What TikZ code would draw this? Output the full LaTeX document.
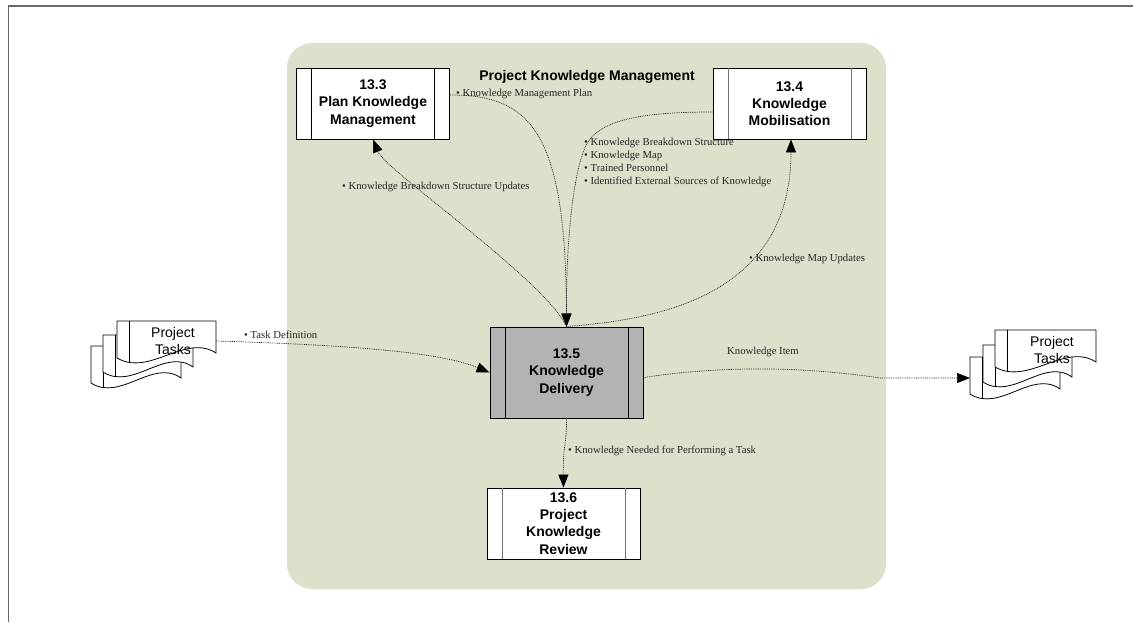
\documentclass[tikz,border=0pt]{standalone}
\usepackage{fontspec}
\setmainfont{Liberation Serif}
\newfontfamily\sansf{Liberation Sans}
\usetikzlibrary{arrows.meta}
\definecolor{bgreen}{RGB}{221,224,203}
\definecolor{boxgray}{RGB}{179,179,179}
\definecolor{framegray}{RGB}{105,105,105}
\tikzset{
 proc/.style={draw=black, line width=0.9pt, fill=white, minimum width=153pt, minimum height=71pt, inner sep=0pt, align=center, font=\sansf\bfseries\fontsize{14}{17.3}\selectfont},
 flow/.style={draw=black!85, line width=0.7pt, dash pattern=on 0.9pt off 0.9pt, -{Triangle[length=13pt,width=10pt,black]}},
 lbl/.style={font=\fontsize{10.7}{13}\selectfont, inner sep=0pt, anchor=west, align=left, text=black!85},
 doctxt/.style={font=\sansf\fontsize{14}{17}\selectfont, align=center, inner sep=0pt},
}
\newcommand\pkdoc[3]{%
 \filldraw[fill=white, draw=black, line width=0.8pt] (#1,#3) -- (#2,#3) -- (#2,{#3+32}) .. controls ({#2-0.31*(#2-#1)},{#3+12}) and ({#1+0.33*(#2-#1)},{#3+56}) .. (#1,{#3+37}) -- cycle;
 \begin{scope}
 \clip (#1,#3) -- (#2,#3) -- (#2,{#3+32}) .. controls ({#2-0.31*(#2-#1)},{#3+12}) and ({#1+0.33*(#2-#1)},{#3+56}) .. (#1,{#3+37}) -- cycle;
 \draw[line width=0.8pt] ({#1+12},#3) -- ({#1+12},{#3+60});
 \end{scope}}
\begin{document}
\begin{tikzpicture}[x=1pt,y=-1pt]
\fill[white] (0,0) rectangle (1133,622);
\useasboundingbox (0,0) rectangle (1133,622);
% frame
\draw[framegray, line width=1.5pt] (8.5,622) -- (8.5,6) -- (1133,6);
% group background
\fill[bgreen, rounded corners=25pt] (287,43) rectangle (886,589);
\node[font=\sansf\bfseries\fontsize{14}{17}\selectfont, inner sep=0pt] (title) at (587,77) {Project Knowledge Management};
% process boxes
\node[proc] (b33) at (373,103.5) {13.3\\Plan Knowledge\\Management};
\node[proc] (b34) at (789.5,103.5) {13.4\\Knowledge\\Mobilisation};
\node[proc, fill=boxgray, minimum height=91pt] (b35) at (566.5,372.5) {13.5\\Knowledge\\Delivery};
\node[proc] (b36) at (563.5,523.5) {13.6\\Project\\Knowledge\\Review};
\foreach \b/\c in {b33/black, b34/black!55, b35/black, b36/black!55}{
 \draw[draw=\c, line width=0.9pt] ([xshift=15.5pt]\b.north west) -- ([xshift=15.5pt]\b.south west);
 \draw[draw=\c, line width=0.9pt] ([xshift=-15.5pt]\b.north east) -- ([xshift=-15.5pt]\b.south east);
}
% document stacks
\pkdoc{91}{181}{346}
\pkdoc{103}{193}{335}
\pkdoc{117}{216}{321}
\node[doctxt] (ptl) at (173,340.5) {Project\\Tasks};
\pkdoc{970}{1060}{357}
\pkdoc{983}{1072}{345}
\pkdoc{995}{1096}{330}
\node[doctxt] (ptr) at (1052,350) {Project\\Tasks};
\coordinate (ptlR) at (216,341);
\coordinate (ptrL) at (970,378);
% connectors
\draw[flow] ([yshift=8.5pt]b33.east) .. controls (530,95) and (566,130) .. (b35.north);
\draw[flow] ([yshift=-8.5pt]b34.west) .. controls (640,112) and (594,120) .. (584,150) .. controls (572,180) and (566,250) .. (b35.north);
\draw[flow] (b35.north) .. controls (545,280) and (385,170) .. (b33.south);
\draw[flow] (b35.north) .. controls (650,320) and (791,300) .. ([xshift=1.5pt]b34.south);
\draw[flow] (ptlR) .. controls (350,345) and (440,352) .. (b35.west);
\draw[flow] ([yshift=-5pt]b35.east) .. controls (720,366) and (800,366) .. (880,378) -- (ptrL);
\draw[flow] (b35.south) .. controls (567,445) and (563,440) .. (b36.north);
% labels
\node[lbl] (l1) at (456,94) {• Knowledge Management Plan};
\node[lbl] (l2) at (584,162.5) {• Knowledge Breakdown Structure\\• Knowledge Map\\• Trained Personnel\\• Identified External Sources of Knowledge};
\node[lbl] (l3) at (342,187) {• Knowledge Breakdown Structure Updates};
\node[lbl] (l4) at (749,259) {• Knowledge Map Updates};
\node[lbl] (l5) at (244,335) {• Task Definition};
\node[lbl, anchor=center] (l6) at (763,352) {Knowledge Item};
\node[lbl] (l7) at (568,451) {• Knowledge Needed for Performing a Task};
\end{tikzpicture}
\end{document}
